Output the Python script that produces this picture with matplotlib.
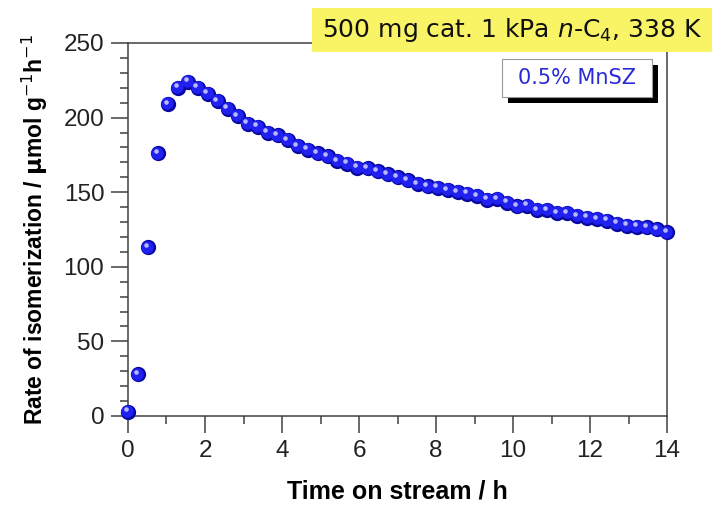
import numpy as np
import matplotlib
matplotlib.use('Agg')
import matplotlib.pyplot as plt
import matplotlib.transforms as mtransforms
from matplotlib.ticker import MultipleLocator
from matplotlib.patches import Rectangle

# time on stream (h) and rate of isomerization (umol g-1 h-1)
t = [0.00, 0.26, 0.52, 0.78, 1.04, 1.30, 1.56, 1.81, 2.07, 2.33,
     2.59, 2.85, 3.11, 3.37, 3.63, 3.89, 4.15, 4.41, 4.67, 4.93,
     5.19, 5.44, 5.70, 5.96, 6.22, 6.48, 6.74, 7.00, 7.26, 7.52,
     7.78, 8.04, 8.30, 8.56, 8.81, 9.07, 9.33, 9.59, 9.85, 10.11,
     10.37, 10.63, 10.89, 11.15, 11.41, 11.67, 11.93, 12.19, 12.44, 12.70,
     12.96, 13.22, 13.48, 13.74, 14.00]
rate = [3, 28, 113, 176, 209, 220, 224, 220, 216, 211,
        206, 201, 196, 194, 190, 188, 185, 181, 178.5, 176,
        174, 171, 169, 166.5, 166, 164, 162, 160, 158, 155.5,
        154, 153, 151.5, 150, 149, 147.5, 145, 145.5, 143, 140.5,
        141, 138, 138, 136, 136, 134, 133, 132, 131, 129,
        127.5, 127, 126.5, 125, 123]

xticks = [0, 2, 4, 6, 8, 10, 12, 14]
yticks = [0, 50, 100, 150, 200, 250]

plt.rcParams['font.family'] = ['Liberation Sans', 'DejaVu Sans']
plt.rcParams['mathtext.fontset'] = 'dejavusans'

fig = plt.figure(figsize=(7.15, 5.07), dpi=100)
ax = fig.add_axes([0.179, 0.1795, 0.754, 0.7357])

# shaded balls: dark rim, blue body, light highlight
ax.plot(t, rate, 'o', ms=11, color='#0808a0', mec='none', zorder=3, clip_on=False)
off1 = mtransforms.offset_copy(ax.transData, fig=fig, x=-0.5, y=0.5, units='points')
ax.plot(t, rate, 'o', ms=9, color='#2020f0', mec='none', zorder=4, clip_on=False, transform=off1)
off2 = mtransforms.offset_copy(ax.transData, fig=fig, x=-1.7, y=1.7, units='points')
ax.plot(t, rate, 'o', ms=3.3, color='#b8b8ff', mec='none', zorder=5, clip_on=False, transform=off2)

ax.set_xlim(0, 14)
ax.set_ylim(0, 250)
ax.set_xticks(xticks)
ax.set_yticks(yticks)
ax.xaxis.set_minor_locator(MultipleLocator(1))
ax.yaxis.set_minor_locator(MultipleLocator(10))
ax.tick_params(which='major', direction='out', length=12, width=1.1, color='#404040',
               labelsize=17.5, labelcolor='#222222', pad=5)
ax.tick_params(which='minor', direction='out', length=6, width=1.1, color='#404040')
ax.tick_params(axis='x', top=False)
ax.tick_params(axis='y', right=False)
for s in ax.spines.values():
    s.set_color('#404040')
    s.set_linewidth(1.1)

ax.set_xlabel('Time on stream / h', fontsize=18, fontweight='bold', labelpad=13)
ax.set_ylabel(r'Rate of isomerization / $\mathbf{\mu}$mol g$^{-1}$h$^{-1}$',
              fontsize=16.5, fontweight='bold', labelpad=10)

# yellow condition box
fig.patches.append(Rectangle((312 / 715, 1 - 52 / 507), 400 / 715, 44 / 507,
                             transform=fig.transFigure, facecolor='#f8f466',
                             edgecolor='none', zorder=10))
fig.text(512 / 715, 1 - 30 / 507, r'500 mg cat. 1 kPa $n$-C$_4$, 338 K',
         ha='center', va='center', fontsize=18, family='DejaVu Sans',
         color='#111111', zorder=11)

# sample label with shadow
fig.patches.append(Rectangle((508 / 715, 1 - 103 / 507), 150 / 715, 38 / 507,
                             transform=fig.transFigure, facecolor='black',
                             edgecolor='none', zorder=10))
fig.patches.append(Rectangle((502 / 715, 1 - 97 / 507), 150 / 715, 38 / 507,
                             transform=fig.transFigure, facecolor='white',
                             edgecolor='#999999', lw=0.8, zorder=11))
fig.text(577 / 715, 1 - 78 / 507, '0.5% MnSZ', ha='center', va='center',
         fontsize=15, family='DejaVu Sans', color='#2a2ad8', zorder=12)

fig.savefig('out.png', dpi=100)
